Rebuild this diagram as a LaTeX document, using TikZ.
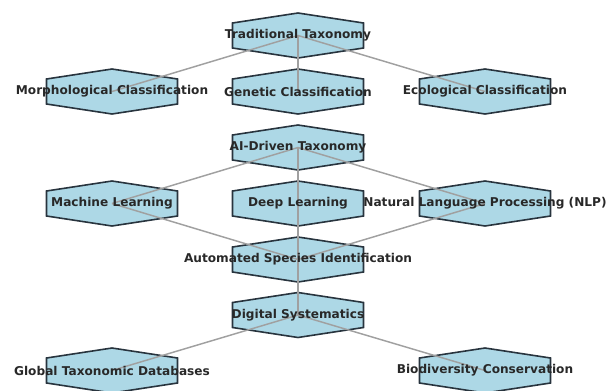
\documentclass[tikz,border=0pt]{standalone}
\usepackage{fontspec}
\setmainfont{DejaVu Sans}
\begin{document}
\begin{tikzpicture}[x=0.75pt,y=-0.75pt,
  hexfill/.style={fill={rgb,255:red,173;green,216;blue,230}, draw={rgb,255:red,40;green,52;blue,62}, line width=1.2pt, line join=miter},
  link/.style={draw={rgb,255:red,160;green,160;blue,160}, line width=1.1pt},
  label/.style={font=\fontsize{9.1}{11}\selectfont\bfseries, text={rgb,255:red,40;green,40;blue,40}, inner sep=0pt},
  hexa/.pic={\path[hexfill] (0,-22.5) -- (65.5,-12.5) -- (65.5,12.5) -- (0,22.5) -- (-65.5,12.5) -- (-65.5,-12.5) -- cycle;}]
\useasboundingbox (0,0) rectangle (615,390);
\clip (0,0) rectangle (615,390);

% node centres
\coordinate (trad) at (298,35.5);
\coordinate (morph) at (112,91.5);
\coordinate (gen) at (298,91.5);
\coordinate (eco) at (485,91.5);
\coordinate (ai) at (298,147.5);
\coordinate (ml) at (112,203.5);
\coordinate (dl) at (298,203.5);
\coordinate (nlp) at (485,203.5);
\coordinate (auto) at (298,259.5);
\coordinate (dig) at (298,315);
\coordinate (glob) at (112,370.5);
\coordinate (bio) at (485,370.5);

% hexagonal markers
\foreach \c in {trad,morph,gen,eco,ai,ml,dl,nlp,auto,dig,glob,bio}
  \pic at (\c) {hexa};

% links
\draw[link] (trad) -- (morph);
\draw[link] (trad) -- (gen);
\draw[link] (trad) -- (eco);
\draw[link] (ai) -- (ml);
\draw[link] (ai) -- (dl);
\draw[link] (ai) -- (nlp);
\draw[link] (ml) -- (auto);
\draw[link] (dl) -- (auto);
\draw[link] (nlp) -- (auto);
\draw[link] (auto) -- (dig);
\draw[link] (dig) -- (glob);
\draw[link] (dig) -- (bio);

% labels
\node[label] (tradT) at (trad) {Traditional Taxonomy};
\node[label] (morphT) at (morph) {Morphological Classification};
\node[label] (genT) at (gen) {Genetic Classification};
\node[label] (ecoT) at (eco) {Ecological Classification};
\node[label] (aiT) at (ai) {AI-Driven Taxonomy};
\node[label] (mlT) at (ml) {Machine Learning};
\node[label] (dlT) at (dl) {Deep Learning};
\node[label] (nlpT) at (nlp) {Natural Language Processing (NLP)};
\node[label] (autoT) at (auto) {Automated Species Identification};
\node[label] (digT) at (dig) {Digital Systematics};
\node[label] (globT) at (glob) {Global Taxonomic Databases};
\node[label] (bioT) at (bio) {Biodiversity Conservation};
\end{tikzpicture}
\end{document}
